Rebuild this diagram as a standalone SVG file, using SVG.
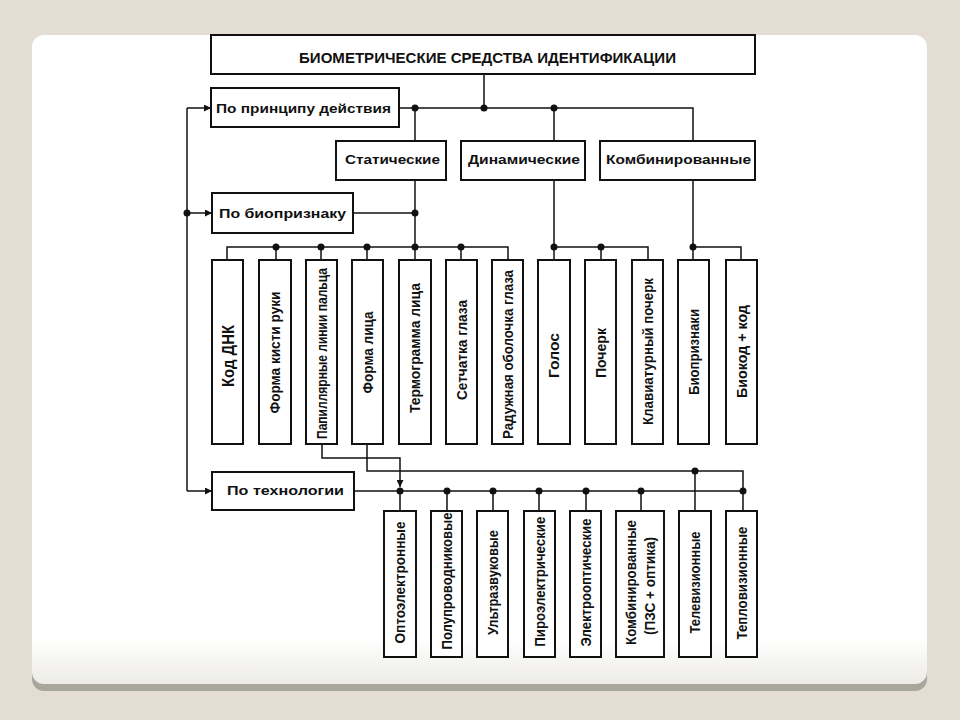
<svg xmlns="http://www.w3.org/2000/svg" width="960" height="720" viewBox="0 0 960 720">
<defs>
<style>
.box{fill:#fff;stroke:#111;stroke-width:2}
.ln{fill:none;stroke:#111;stroke-width:1.5}
.dot{fill:#111}
.t{font-family:"Liberation Sans",Arial,sans-serif;font-weight:bold;fill:#111;font-size:13.5px}
.v{font-family:"Liberation Sans",Arial,sans-serif;font-weight:bold;fill:#111;font-size:14.5px;text-anchor:middle}
</style>
<marker id="ar" viewBox="0 0 10 10" refX="10" refY="5" markerWidth="7" markerHeight="7" markerUnits="userSpaceOnUse" orient="auto">
<path d="M0,0 L10,5 L0,10 Z" fill="#111"/>
</marker>
<linearGradient id="cardg" x1="0" y1="0" x2="0" y2="1">
<stop offset="0.93" stop-color="#ffffff"/>
<stop offset="1" stop-color="#ecebe6"/>
</linearGradient>
</defs>
<rect x="0" y="0" width="960" height="720" fill="#e3ddd3"/>
<rect x="32" y="41" width="895" height="650" rx="12" fill="#a9a69c"/>
<rect x="32" y="35" width="895" height="649" rx="12" fill="url(#cardg)"/>

<g id="connectors">
<path class="ln" d="M484 74 V108"/>
<path class="ln" d="M399 108 H693 V141"/>
<path class="ln" d="M415 108 V141"/>
<path class="ln" d="M554 108 V141"/>
<path class="ln" d="M415 180 V260"/>
<path class="ln" d="M353 213 H415"/>
<path class="ln" d="M554 180 V260"/>
<path class="ln" d="M693 180 V260"/>
<path class="ln" d="M227 260 V247 H508 V260"/>
<path class="ln" d="M276 247 V260 M321 247 V260 M367 247 V260 M461 247 V260"/>
<path class="ln" d="M554 247 H648 V260 M601 247 V260"/>
<path class="ln" d="M693 247 H741 V260"/>
<path class="ln" d="M187 108 V491"/>
<path class="ln" d="M187 108 H211" marker-end="url(#ar)"/>
<path class="ln" d="M187 213 H212" marker-end="url(#ar)"/>
<path class="ln" d="M187 491 H212" marker-end="url(#ar)"/>
<path class="ln" d="M322 444 V458 H400 V487" marker-end="url(#ar)"/>
<path class="ln" d="M367 444 V471 H743 V511"/>
<path class="ln" d="M695 471 V511"/>
<path class="ln" d="M354 491 H743"/>
<path class="ln" d="M400 491 V511 M447 491 V511 M493 491 V511 M539 491 V511 M586 491 V511 M641 491 V511"/>
<g class="dot">
<circle cx="415" cy="108" r="3.5"/><circle cx="484" cy="108" r="3.5"/><circle cx="554" cy="108" r="3.5"/>
<circle cx="187" cy="213" r="3.5"/><circle cx="415" cy="213" r="3.5"/>
<circle cx="276" cy="247" r="3.5"/><circle cx="321" cy="247" r="3.5"/><circle cx="367" cy="247" r="3.5"/>
<circle cx="415" cy="247" r="3.5"/><circle cx="461" cy="247" r="3.5"/>
<circle cx="554" cy="247" r="3.5"/><circle cx="601" cy="247" r="3.5"/><circle cx="693" cy="247" r="3.5"/>
<circle cx="400" cy="491" r="3.5"/><circle cx="447" cy="491" r="3.5"/><circle cx="493" cy="491" r="3.5"/>
<circle cx="539" cy="491" r="3.5"/><circle cx="586" cy="491" r="3.5"/><circle cx="641" cy="491" r="3.5"/>
<circle cx="743" cy="491" r="3.5"/><circle cx="695" cy="471" r="3.5"/>
</g>
</g>

<g id="title"><rect class="box" x="211" y="35" width="544" height="39"/>
<text class="t" x="487.5" y="62.5" text-anchor="middle" font-size="15" style="font-size:15px" textLength="377" lengthAdjust="spacingAndGlyphs">БИОМЕТРИЧЕСКИЕ СРЕДСТВА ИДЕНТИФИКАЦИИ</text></g>

<g id="principle"><rect class="box" x="211" y="88" width="188" height="39"/>
<text class="t" x="216" y="112.5" textLength="175" lengthAdjust="spacingAndGlyphs">По принципу действия</text></g>

<g id="static"><rect class="box" x="336" y="141" width="110" height="39"/>
<text class="t" x="345" y="163.5" textLength="95" lengthAdjust="spacingAndGlyphs">Статические</text></g>
<g id="dynamic"><rect class="box" x="461" y="141" width="124" height="39"/>
<text class="t" x="468" y="163.5" textLength="112" lengthAdjust="spacingAndGlyphs">Динамические</text></g>
<g id="combined"><rect class="box" x="600" y="141" width="155" height="39"/>
<text class="t" x="606" y="163.5" textLength="145" lengthAdjust="spacingAndGlyphs">Комбинированные</text></g>

<g id="bio"><rect class="box" x="212" y="193" width="141" height="40"/>
<text class="t" x="219" y="217.5" textLength="127" lengthAdjust="spacingAndGlyphs">По биопризнаку</text></g>

<g id="tech"><rect class="box" x="212" y="472" width="142" height="38"/>
<text class="t" x="227" y="495" textLength="117" lengthAdjust="spacingAndGlyphs">По технологии</text></g>

<g id="dna"><rect class="box" x="212" y="260" width="31" height="184"/>
<text class="v" style="font-size:17px" transform="translate(228,356) rotate(-90)" dy="0.36em" textLength="62" lengthAdjust="spacingAndGlyphs">Код  ДНК</text></g>
<g id="hand"><rect class="box" x="259" y="260" width="32" height="184"/>
<text class="v" transform="translate(275,352.5) rotate(-90)" dy="0.36em" textLength="122" lengthAdjust="spacingAndGlyphs">Форма кисти руки</text></g>
<g id="finger"><rect class="box" x="306" y="260" width="31" height="184"/>
<text class="v" transform="translate(321.5,353.5) rotate(-90)" dy="0.36em" textLength="171" lengthAdjust="spacingAndGlyphs">Папиллярные линии пальца</text></g>
<g id="face"><rect class="box" x="352" y="260" width="31" height="184"/>
<text class="v" transform="translate(367.5,352.5) rotate(-90)" dy="0.36em" textLength="82" lengthAdjust="spacingAndGlyphs">Форма лица</text></g>
<g id="thermo"><rect class="box" x="399" y="260" width="32" height="184"/>
<text class="v" transform="translate(415,348) rotate(-90)" dy="0.36em" textLength="130" lengthAdjust="spacingAndGlyphs">Термограмма лица</text></g>
<g id="retina"><rect class="box" x="446" y="260" width="31" height="184"/>
<text class="v" transform="translate(461.5,350) rotate(-90)" dy="0.36em" textLength="100" lengthAdjust="spacingAndGlyphs">Сетчатка глаза</text></g>
<g id="iris"><rect class="box" x="492" y="260" width="31" height="184"/>
<text class="v" transform="translate(507.5,354.5) rotate(-90)" dy="0.36em" textLength="169" lengthAdjust="spacingAndGlyphs">Радужная оболочка глаза</text></g>
<g id="voice"><rect class="box" x="538" y="260" width="32" height="184"/>
<text class="v" transform="translate(554,355.5) rotate(-90)" dy="0.36em" textLength="45" lengthAdjust="spacingAndGlyphs">Голос</text></g>
<g id="handwriting"><rect class="box" x="585" y="260" width="31" height="184"/>
<text class="v" transform="translate(600.5,353) rotate(-90)" dy="0.36em" textLength="50" lengthAdjust="spacingAndGlyphs">Почерк</text></g>
<g id="keyboard"><rect class="box" x="632" y="260" width="31" height="184"/>
<text class="v" transform="translate(647.5,351.5) rotate(-90)" dy="0.36em" textLength="147" lengthAdjust="spacingAndGlyphs">Клавиатурный почерк</text></g>
<g id="biofeatures"><rect class="box" x="678" y="260" width="31" height="184"/>
<text class="v" transform="translate(693.5,352) rotate(-90)" dy="0.36em" textLength="86" lengthAdjust="spacingAndGlyphs">Биопризнаки</text></g>
<g id="biocode"><rect class="box" x="726" y="260" width="31" height="184"/>
<text class="v" transform="translate(741.5,351.5) rotate(-90)" dy="0.36em" textLength="93" lengthAdjust="spacingAndGlyphs">Биокод + код</text></g>

<g id="opto"><rect class="box" x="384" y="511" width="32" height="146"/>
<text class="v" transform="translate(400,582.5) rotate(-90)" dy="0.36em" textLength="122" lengthAdjust="spacingAndGlyphs">Оптоэлектронные</text></g>
<g id="semi"><rect class="box" x="431" y="511" width="31" height="146"/>
<text class="v" transform="translate(446.5,581) rotate(-90)" dy="0.36em" textLength="137" lengthAdjust="spacingAndGlyphs">Полупроводниковые</text></g>
<g id="ultra"><rect class="box" x="477" y="511" width="31" height="146"/>
<text class="v" transform="translate(492.5,582.5) rotate(-90)" dy="0.36em" textLength="105" lengthAdjust="spacingAndGlyphs">Ультразвуковые</text></g>
<g id="pyro"><rect class="box" x="524" y="511" width="31" height="146"/>
<text class="v" transform="translate(539.5,581.7) rotate(-90)" dy="0.36em" textLength="130" lengthAdjust="spacingAndGlyphs">Пироэлектрические</text></g>
<g id="electroopt"><rect class="box" x="570" y="511" width="31" height="146"/>
<text class="v" transform="translate(585.5,582.5) rotate(-90)" dy="0.36em" textLength="128" lengthAdjust="spacingAndGlyphs">Электрооптические</text></g>
<g id="combtech"><rect class="box" x="616" y="511" width="48" height="146"/>
<text class="v" transform="translate(631,582.5) rotate(-90)" dy="0.36em" textLength="125" lengthAdjust="spacingAndGlyphs">Комбинированные</text>
<text class="v" transform="translate(650,586) rotate(-90)" dy="0.36em" textLength="98" lengthAdjust="spacingAndGlyphs">(ПЗС + оптика)</text></g>
<g id="tv"><rect class="box" x="679" y="511" width="32" height="146"/>
<text class="v" transform="translate(695,582.5) rotate(-90)" dy="0.36em" textLength="102" lengthAdjust="spacingAndGlyphs">Телевизионные</text></g>
<g id="thermovision"><rect class="box" x="726" y="511" width="31" height="146"/>
<text class="v" transform="translate(741.5,583) rotate(-90)" dy="0.36em" textLength="113" lengthAdjust="spacingAndGlyphs">Тепловизионные</text></g>
</svg>
